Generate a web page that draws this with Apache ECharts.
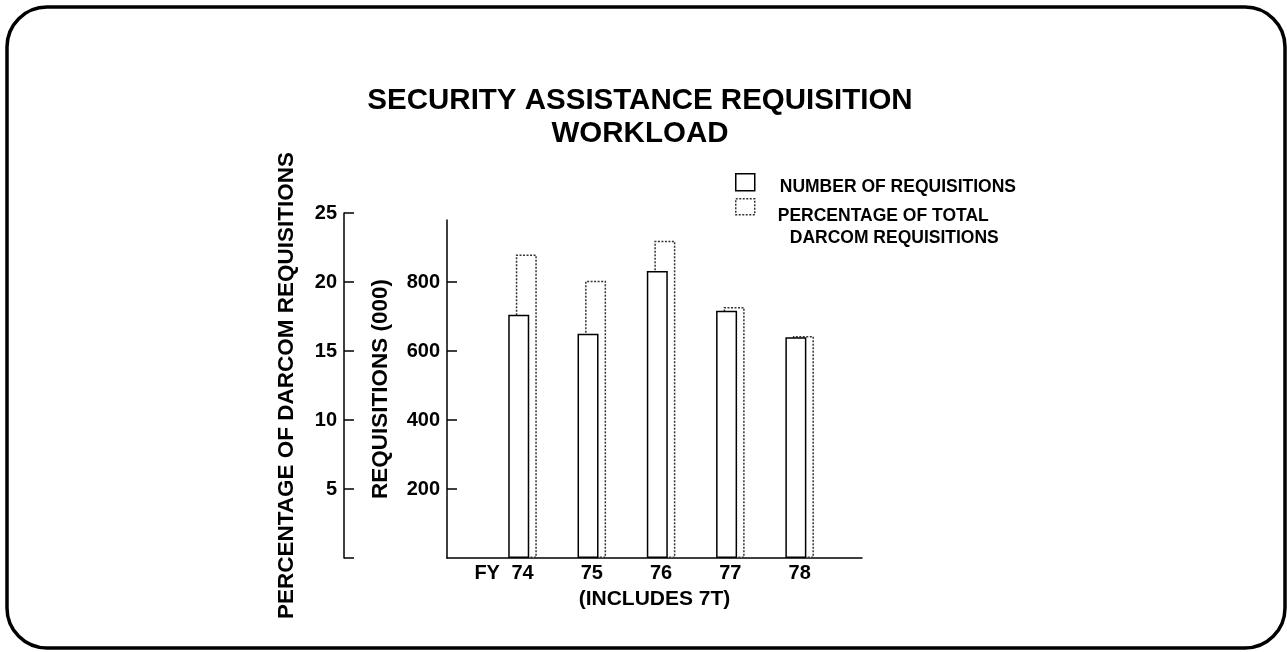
<!DOCTYPE html>
<html>
<head>
<meta charset="utf-8">
<script src="https://cdn.jsdelivr.net/npm/echarts@6/dist/echarts.min.js"></script>
<style>
html, body { margin: 0; padding: 0; background: #fff; }
#chart { width: 1287px; height: 652px; }
</style>
</head>
<body>
<div id="chart"></div>
<script>
// ---- data ----
const years = [74, 75, 76, 77, 78];
const yearLabels = ['FY 74', '75', '76', '77', '78'];
const requisitions = [705, 650, 832, 717, 640];        // thousands
const percentOfDarcom = [22, 20.1, 23, 18.2, 16.1];    // percent
const reqTicks = [200, 400, 600, 800];
const pctTicks = [5, 10, 15, 20, 25];
const pctTickMarks = [0, 5, 10, 15, 20, 25];
const titleLines = ['SECURITY ASSISTANCE REQUISITION', 'WORKLOAD'];
const numberSeriesName = 'NUMBER OF REQUISITIONS';
const pctLegendLines = ['PERCENTAGE OF TOTAL', 'DARCOM REQUISITIONS'];
const reqAxisName = 'REQUISITIONS (000)';
const pctAxisName = 'PERCENTAGE OF DARCOM REQUISITIONS';
const xAxisName = '(INCLUDES 7T)';

// ---- presentation ----
const FONT = '"Liberation Sans", Arial, Helvetica, sans-serif';
const REQ_MAX = 980;          // top of requisitions axis line
const REQ_PER_PCT = 40;       // 25 % lines up with 1000 requisitions
const pctSeriesName = pctLegendLines.join(' ');
const txt = (size, extra) => Object.assign({ fontFamily: FONT, fontSize: size, fontWeight: 'bold', color: '#000' }, extra || {});
const blackLine = { color: '#000', width: 1.5 };

const chart = echarts.init(document.getElementById('chart'), null, { renderer: 'canvas' });

const option = {
  animation: false,
  backgroundColor: '#fff',
  title: {
    text: titleLines.join('\n'),
    left: 640,
    top: 84,
    textAlign: 'center',
    padding: 0,
    textStyle: txt(29.5, { lineHeight: 33 })
  },
  graphic: [{
    type: 'rect',
    silent: true,
    z: 100,
    shape: { x: 7, y: 7, width: 1278, height: 641, r: 40 },
    style: { fill: 'none', stroke: '#000', lineWidth: 3.5 }
  }],
  legend: [
    {
      data: [numberSeriesName],
      left: 735, top: 173, padding: 0,
      orient: 'vertical',
      icon: 'rect', itemWidth: 19, itemHeight: 17,
      selectedMode: false,
      itemStyle: { color: '#fff', borderColor: '#000', borderWidth: 1.5 },
      formatter: (n) => '{a|' + n + '}',
      textStyle: txt(17.5, {
        padding: [10, 0, 0, 20],
        rich: { a: txt(17.5, { lineHeight: 22 }) }
      })
    },
    {
      data: [pctSeriesName],
      left: 735, top: 198, padding: 0,
      orient: 'vertical',
      icon: 'rect', itemWidth: 19, itemHeight: 16,
      selectedMode: false,
      itemStyle: { color: '#fff', borderColor: '#333', borderWidth: 1.5, borderType: [2, 1.5] },
      formatter: () => '{a|' + pctLegendLines[0] + '}\n{b|' + pctLegendLines[1] + '}',
      textStyle: txt(17.5, {
        padding: [40, 0, 0, 18],
        rich: {
          a: txt(17.5, { lineHeight: 22 }),
          b: txt(17.5, { lineHeight: 22, padding: [0, 0, 0, 12] })
        }
      })
    }
  ],
  grid: [
    { left: 447, right: 425, top: 220, bottom: 94, containLabel: false },
    { left: 344, width: 10, top: 213, bottom: 94, containLabel: false }
  ],
  xAxis: [
    {
      gridIndex: 0, type: 'value',
      min: 72.91, max: 78.9,
      axisLine: { show: true, onZero: false, lineStyle: blackLine },
      axisTick: { show: false },
      splitLine: { show: false },
      axisLabel: {
        customValues: years,
        margin: 5,
        formatter: (v) => {
          const s = yearLabels[years.indexOf(Math.round(v))];
          const m = s.match(/^(\S+\s)(.*)$/);
          return m ? '{pre|' + m[1] + '}{num|' + m[2] + '}{pad|}' : '{num|' + s + '}';
        },
        rich: {
          pre: txt(20, { width: 37, align: 'left' }),
          num: txt(20),
          pad: txt(20, { width: 37 })
        }
      },
      name: xAxisName,
      nameLocation: 'middle',
      nameGap: 31,
      nameTextStyle: txt(21)
    },
    { gridIndex: 1, type: 'value', show: false }
  ],
  yAxis: [
    {
      gridIndex: 0, type: 'value', position: 'left',
      min: 0, max: REQ_MAX,
      axisLine: { show: true, onZero: false, lineStyle: blackLine },
      axisTick: { show: true, inside: true, length: 10, customValues: reqTicks, lineStyle: blackLine },
      axisLabel: { customValues: reqTicks, margin: 7, ...txt(20) },
      splitLine: { show: false },
      name: reqAxisName,
      nameLocation: 'middle',
      nameRotate: 90,
      nameGap: 55,
      nameTextStyle: txt(22.5)
    },
    {
      gridIndex: 0, type: 'value', show: false,
      min: 0, max: REQ_MAX / REQ_PER_PCT
    },
    {
      gridIndex: 1, type: 'value', position: 'left',
      min: 0, max: 25, interval: 5,
      axisLine: { show: true, onZero: false, lineStyle: blackLine },
      axisTick: { show: true, inside: true, length: 10, customValues: pctTickMarks, lineStyle: blackLine },
      axisLabel: { customValues: pctTicks, margin: 7, ...txt(20) },
      splitLine: { show: false },
      name: pctAxisName,
      nameLocation: 'middle',
      nameRotate: 90,
      nameGap: 46,
      nameTextStyle: txt(22.5)
    }
  ],
  series: [
    {
      name: numberSeriesName,
      type: 'bar',
      xAxisIndex: 0, yAxisIndex: 0,
      data: years.map((y, i) => [y, requisitions[i]]),
      barWidth: 21,
      barGap: '-64%',
      z: 3,
      itemStyle: { color: '#fff', borderColor: '#000', borderWidth: 1.5 }
    },
    {
      name: pctSeriesName,
      type: 'bar',
      xAxisIndex: 0, yAxisIndex: 1,
      data: years.map((y, i) => [y, percentOfDarcom[i]]),
      barWidth: 21,
      barGap: '-64%',
      z: 2,
      itemStyle: { color: '#fff', borderColor: '#333', borderWidth: 1.5, borderType: [2, 1.5] }
    }
  ]
};

chart.setOption(option);
</script>
</body>
</html>
